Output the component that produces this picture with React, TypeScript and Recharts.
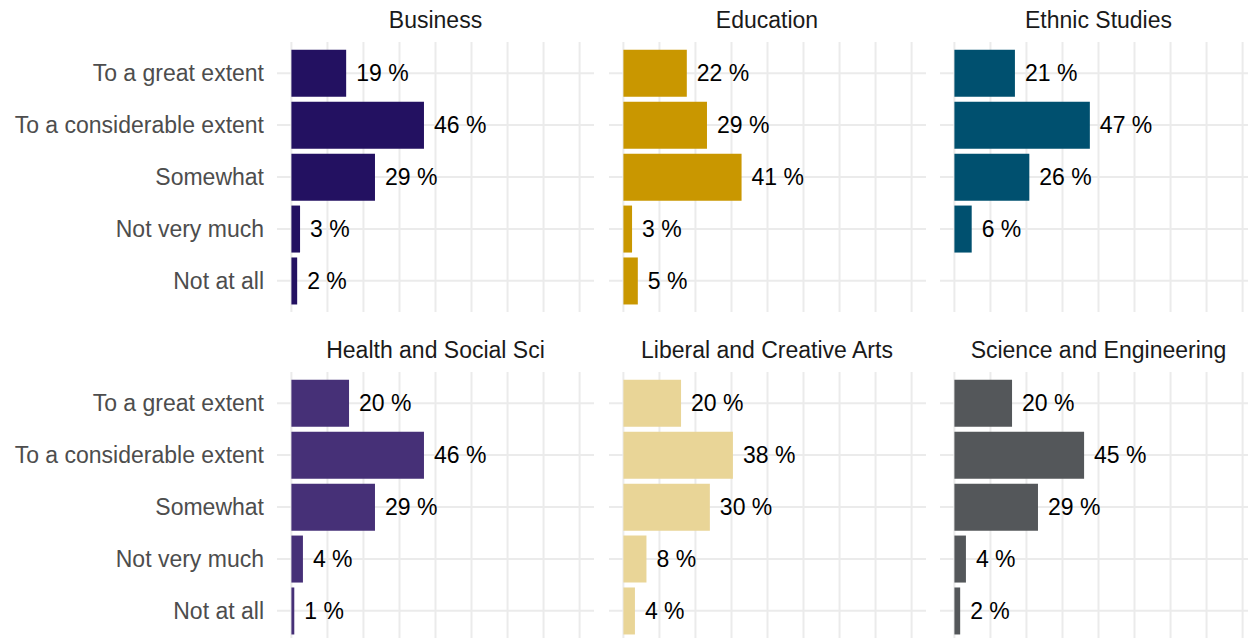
import React from "react";
import { BarChart, Bar, XAxis, YAxis, CartesianGrid, LabelList } from "recharts";

const categories = [
  "To a great extent",
  "To a considerable extent",
  "Somewhat",
  "Not very much",
  "Not at all",
];

// percent of respondents per college
const business = [19, 46, 29, 3, 2];
const education = [22, 29, 41, 3, 5];
const ethnicStudies = [21, 47, 26, 6, null];
const healthSocialSci = [20, 46, 29, 4, 1];
const liberalCreativeArts = [20, 38, 30, 8, 4];
const scienceEngineering = [20, 45, 29, 4, 2];

const xTicks = [0, 12.5, 25, 37.5, 50, 62.5, 75, 87.5, 100];

const panels = [
  { title: "Business", values: business, color: "#231161", col: 0, row: 0 },
  { title: "Education", values: education, color: "#C99700", col: 1, row: 0 },
  { title: "Ethnic Studies", values: ethnicStudies, color: "#00506F", col: 2, row: 0 },
  { title: "Health and Social Sci", values: healthSocialSci, color: "#463077", col: 0, row: 1 },
  { title: "Liberal and Creative Arts", values: liberalCreativeArts, color: "#E9D597", col: 1, row: 1 },
  { title: "Science and Engineering", values: scienceEngineering, color: "#54575A", col: 2, row: 1 },
];

const FONT = "'Liberation Sans', Arial, sans-serif";
const FS = 23;
const PANEL_W = 317;
const PANEL_H = 270;
const AXIS_W = 277;
const colLeft = [277, 608.5, 940];
const rowTop = [41.7, 371.7];
const titleTop = [9, 339];

type PanelProps = {
  title: string;
  values: (number | null)[];
  color: string;
  col: number;
  row: number;
};

const Panel: React.FC<PanelProps> = ({ title, values, color, col, row }) => {
  const data = categories.map((c, i) => ({ category: c, value: values[i] }));
  const showAxis = col === 0;
  const axisW = showAxis ? AXIS_W : 0;
  return (
    <>
      <div
        style={{
          position: "absolute",
          left: colLeft[col],
          top: titleTop[row],
          width: PANEL_W,
          textAlign: "center",
          fontSize: FS,
          lineHeight: FS + "px",
          color: "#1A1A1A",
          fontFamily: FONT,
          whiteSpace: "nowrap",
        }}
      >
        {title}
      </div>
      <div style={{ position: "absolute", left: colLeft[col] - axisW, top: rowTop[row] }}>
        <BarChart
          width={PANEL_W + axisW}
          height={PANEL_H}
          data={data}
          layout="vertical"
          margin={{ top: 0, right: 0, bottom: 0, left: 0 }}
          barCategoryGap="5%"
        >
          <CartesianGrid stroke="#EBEBEB" strokeWidth={2} syncWithTicks />
          <XAxis
            type="number"
            domain={[-5, 105]}
            ticks={xTicks}
            tick={{ fill: "transparent", fontSize: 1 }}
            axisLine={false}
            tickLine={false}
            height={0}
          />
          <YAxis
            type="category"
            dataKey="category"
            width={axisW}
            padding={{ top: 5.2, bottom: 5.2 }}
            axisLine={false}
            tickLine={false}
            tickSize={0}
            tickMargin={13}
            tick={showAxis ? { fill: "#4D4D4D", fontSize: FS, fontFamily: FONT } : { fill: "transparent", fontSize: 1 }}
          />
          <Bar dataKey="value" fill={color} isAnimationActive={false}>
            <LabelList
              dataKey="value"
              position="right"
              offset={10}
              fill="#000000"
              fontSize={FS}
              fontFamily={FONT}
              formatter={(v: any) => (v == null ? "" : `${v} %`)}
            />
          </Bar>
        </BarChart>
      </div>
    </>
  );
};

const App: React.FC = () => {
  return (
    <div
      style={{
        position: "absolute",
        left: 0,
        top: 0,
        width: 1248,
        height: 638,
        overflow: "hidden",
        background: "#FFFFFF",
        fontFamily: FONT,
      }}
    >
      {panels.map((p) => (
        <Panel key={p.title} {...p} />
      ))}
    </div>
  );
};

export default App;
